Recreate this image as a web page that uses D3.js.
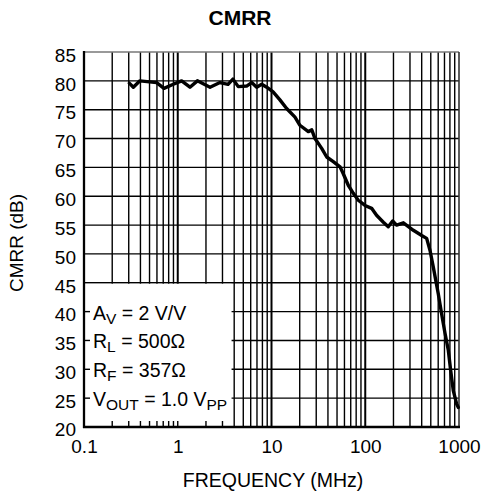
<!DOCTYPE html>
<html>
<head>
<meta charset="utf-8">
<script src="https://cdn.jsdelivr.net/npm/d3@7/dist/d3.min.js"></script>
<style>
  html, body { margin: 0; padding: 0; background: #fff; }
  svg { display: block; }
  text { font-family: "Liberation Sans", Arial, Helvetica, sans-serif; fill: #000; }
</style>
</head>
<body>
<svg id="chart" width="482" height="495"></svg>
<script>
// ---- data ----
const freqMHz = [0.304,0.336,0.395,0.595,0.713,0.897,1.10,1.35,1.62,2.21,2.82,3.44,3.88,4.42,5.43,6.15,6.95,7.86,8.89,10.4,12.3,14.5,17.8,20.1,24.7,26.9,29.1,34.3,38.8,45.6,53.8,58.3,65.9,74.6,84.3,99.4,117,132,156,176,196,216,255,326,400,452,491,532,601,653,710,769,815,869,944,984];
const cmrrDb = [79.6,78.9,80.0,79.7,78.7,79.4,80.0,78.9,80.0,78.9,79.7,79.4,80.3,79.0,79.1,79.7,78.9,79.4,78.9,78.1,76.7,75.2,73.7,72.3,71.2,71.5,70.0,68.3,66.8,66.0,65.1,63.9,61.9,60.5,59.3,58.4,57.9,56.7,55.5,54.7,55.7,55.0,55.4,54.1,53.2,52.7,50.6,47.7,43.1,39.6,36.2,33.3,29.8,26.3,24.0,23.4];
const xTickValues = [0.1, 1, 10, 100, 1000];
const xTickLabels = ["0.1", "1", "10", "100", "1000"];
const yTickValues = [20,25,30,35,40,45,50,55,60,65,70,75,80,85];
const titleText = "CMRR";
const xTitle = "FREQUENCY (MHz)";
const yTitle = "CMRR (dB)";
const noteLines = [
  {main: "A", sub: "V", rest: " = 2 V/V", at: 40},
  {main: "R", sub: "L", rest: " = 500\u03A9", at: 35},
  {main: "R", sub: "F", rest: " = 357\u03A9", at: 30},
  {main: "V", sub: "OUT", rest: " = 1.0 V", sub2: "PP", at: 25}
];

// ---- layout ----
const L = 84, R = 459, T = 52, B = 427;
const svg = d3.select("#chart");
const x = d3.scaleLog().domain([0.1, 1000]).range([L, R]);
const y = d3.scaleLinear().domain([20, 85]).range([B, T]);

// minor grid values
const gridX = [];
for (let d = 0.1; d < 1000; d *= 10) for (let k = 1; k <= 9; k++) gridX.push(+(d * k).toPrecision(3));
gridX.push(1000);

const g = svg.append("g");

// vertical grid
g.selectAll("line.vx").data(gridX.filter(v => v > 0.1 && v < 1000)).join("line")
  .attr("x1", d => x(d)).attr("x2", d => x(d))
  .attr("y1", T).attr("y2", B)
  .attr("stroke", "#000")
  .attr("stroke-width", d => (xTickValues.includes(d) ? 2 : 1.4));

// horizontal grid
g.selectAll("line.hy").data(yTickValues.filter(v => v > 20 && v < 85)).join("line")
  .attr("x1", L).attr("x2", R)
  .attr("y1", d => y(d)).attr("y2", d => y(d))
  .attr("stroke", "#000").attr("stroke-width", 1.4);

// annotation box (white, covers grid)
const boxRight = x(3.75);
g.append("rect").attr("x", L).attr("y", y(45) + 1).attr("width", boxRight - L).attr("height", B - y(45) - 1)
  .attr("fill", "#fff");

// inward ticks inside the box
g.selectAll("line.lt").data(yTickValues.filter(v => v > 20 && v < 45)).join("line")
  .attr("x1", L).attr("x2", L + 6)
  .attr("y1", d => y(d)).attr("y2", d => y(d))
  .attr("stroke", "#000").attr("stroke-width", 1.4);
g.selectAll("line.bt").data(gridX.filter(v => v > 0.1 && x(v) < boxRight)).join("line")
  .attr("x1", d => x(d)).attr("x2", d => x(d))
  .attr("y1", B).attr("y2", B - 6)
  .attr("stroke", "#000").attr("stroke-width", 1.4);

// frame
g.append("line").attr("x1", L).attr("x2", R).attr("y1", T).attr("y2", T).attr("stroke", "#777").attr("stroke-width", 1.6);
g.append("line").attr("x1", R).attr("x2", R).attr("y1", T).attr("y2", B).attr("stroke", "#333").attr("stroke-width", 1.6);
g.append("line").attr("x1", L - 1).attr("x2", R + 1).attr("y1", B).attr("y2", B).attr("stroke", "#000").attr("stroke-width", 2.3);
g.append("line").attr("x1", L).attr("x2", L).attr("y1", T - 1).attr("y2", B + 1).attr("stroke", "#000").attr("stroke-width", 2.3);

// annotation text
const note = g.append("g").attr("font-size", 19.5);
noteLines.forEach(n => {
  const t = note.append("text").attr("x", L + 9).attr("y", y(n.at) + 8);
  t.append("tspan").text(n.main);
  t.append("tspan").attr("font-size", 15.5).attr("dy", 4).text(n.sub);
  t.append("tspan").attr("dy", -4).text(n.rest);
  if (n.sub2) t.append("tspan").attr("font-size", 15.5).attr("dy", 4).text(n.sub2);
});

// curve
const pts = freqMHz.map((f, i) => [f, cmrrDb[i]]);
g.append("path").datum(pts)
  .attr("fill", "none").attr("stroke", "#000").attr("stroke-width", 3.4)
  .attr("stroke-linejoin", "round").attr("stroke-linecap", "round")
  .attr("d", d3.line().x(d => x(d[0])).y(d => y(d[1])));

// axes labels via d3 axes (no domain/ticks drawn)
const xAxis = d3.axisBottom(x).tickValues(xTickValues).tickFormat((d, i) => xTickLabels[i]).tickSize(0).tickPadding(0);
const xa = svg.append("g").attr("transform", `translate(0,${B})`).call(xAxis);
xa.select(".domain").remove();
xa.selectAll("text").attr("font-size", 19).attr("font-family", "Liberation Sans, Arial, sans-serif").attr("dy", null).attr("y", 25.5).attr("fill", "#000");

const yAxis = d3.axisLeft(y).tickValues(yTickValues).tickFormat(d3.format("d")).tickSize(0).tickPadding(8);
const ya = svg.append("g").attr("transform", `translate(${L},0)`).call(yAxis);
ya.select(".domain").remove();
ya.selectAll("text").attr("font-size", 19).attr("font-family", "Liberation Sans, Arial, sans-serif").attr("dy", "0.38em").attr("fill", "#000")
  .attr("y", d => (d === 20 ? 1 : 2));

// titles
svg.append("text").attr("x", 240).attr("y", 25).attr("text-anchor", "middle")
  .attr("font-size", 21).attr("font-weight", "bold").text(titleText);
svg.append("text").attr("x", 273).attr("y", 487).attr("text-anchor", "middle")
  .attr("font-size", 19.5).text(xTitle);
svg.append("text").attr("transform", "translate(23,243) rotate(-90)").attr("text-anchor", "middle")
  .attr("font-size", 19).text(yTitle);
</script>
</body>
</html>
